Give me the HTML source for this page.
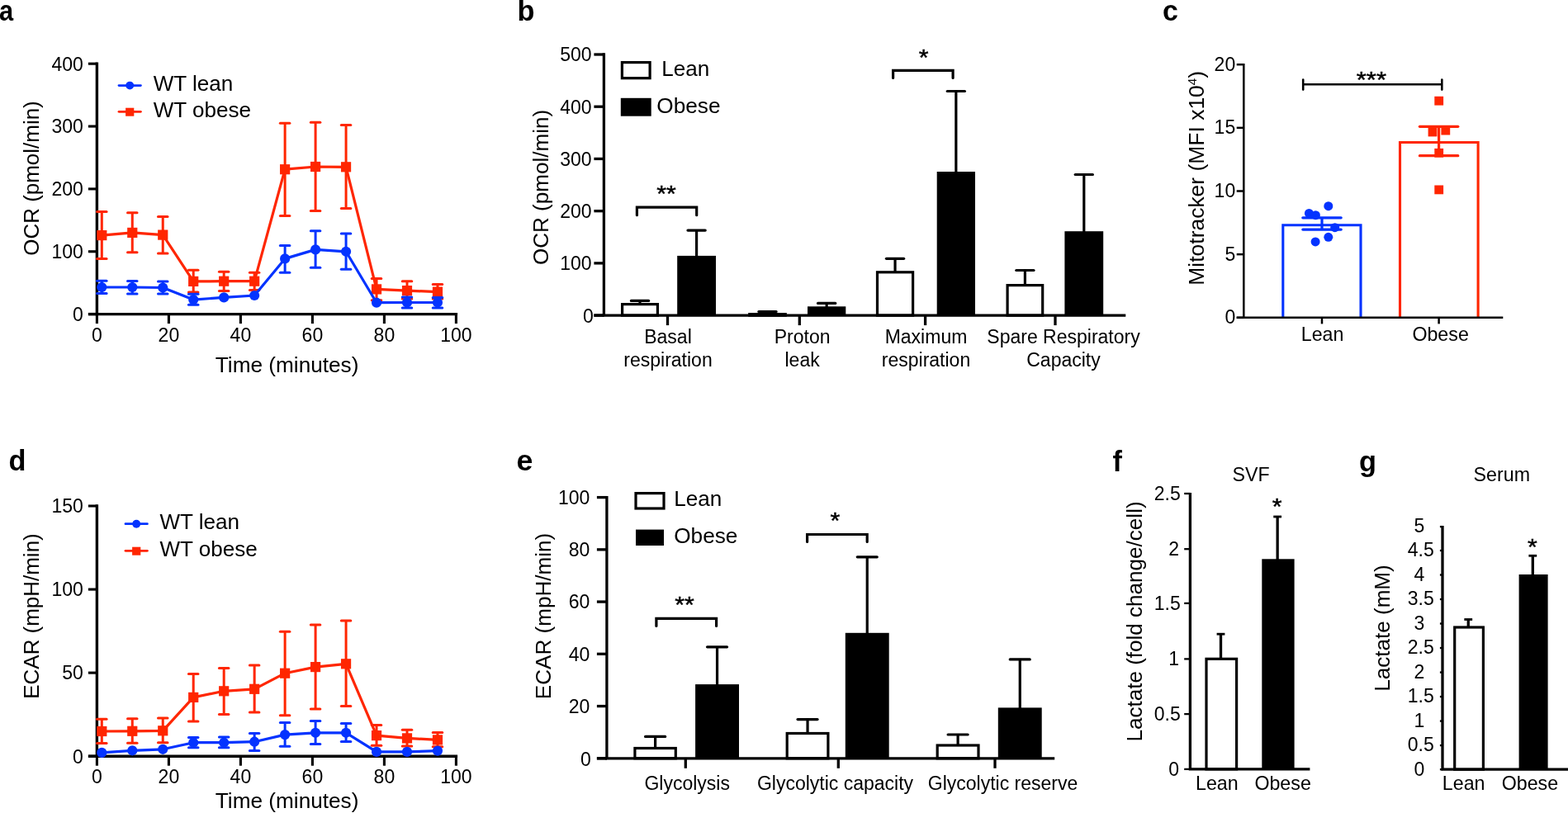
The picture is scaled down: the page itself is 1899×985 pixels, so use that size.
<!DOCTYPE html>
<html lang="en">
<head>
<meta charset="utf-8">
<title>Figure</title>
<style>
html,body{margin:0;padding:0;background:#fff;}
body{width:1899px;height:985px;overflow:hidden;}
svg{display:block;font-family:"Liberation Sans",sans-serif;fill:#000;}
</style>
</head>
<body>
<svg width="1899" height="985" viewBox="0 0 1899 985">
<rect x="0" y="0" width="1899" height="985" fill="#fff"/>
<g id="panel-a">
<text transform="translate(-1 25) scale(0.880 1)" font-size="35" font-weight="bold">a</text>
<path d="M117.4 75.5 V380.6 H554.1" fill="none" stroke="#000" stroke-width="3.4" stroke-linejoin="miter"/>
<path d="M117.4 380.6 H106.9" fill="none" stroke="#000" stroke-width="3.4"/>
<line x1="106.9" y1="380.6" x2="117.4" y2="380.6" stroke="#000" stroke-width="3.1"/>
<text x="100.9" y="388.9" font-size="23" text-anchor="end">0</text>
<line x1="106.9" y1="304.75" x2="117.4" y2="304.75" stroke="#000" stroke-width="3.1"/>
<text x="100.9" y="313.05" font-size="23" text-anchor="end">100</text>
<line x1="106.9" y1="228.9" x2="117.4" y2="228.9" stroke="#000" stroke-width="3.1"/>
<text x="100.9" y="237.2" font-size="23" text-anchor="end">200</text>
<line x1="106.9" y1="153.05" x2="117.4" y2="153.05" stroke="#000" stroke-width="3.1"/>
<text x="100.9" y="161.35" font-size="23" text-anchor="end">300</text>
<line x1="106.9" y1="77.2" x2="117.4" y2="77.2" stroke="#000" stroke-width="3.1"/>
<text x="100.9" y="85.5" font-size="23" text-anchor="end">400</text>
<line x1="117.4" y1="380.6" x2="117.4" y2="392.1" stroke="#000" stroke-width="3.1"/>
<text x="117.4" y="413.7" font-size="23" text-anchor="middle">0</text>
<line x1="204.4" y1="380.6" x2="204.4" y2="392.1" stroke="#000" stroke-width="3.1"/>
<text x="204.4" y="413.7" font-size="23" text-anchor="middle">20</text>
<line x1="291.4" y1="380.6" x2="291.4" y2="392.1" stroke="#000" stroke-width="3.1"/>
<text x="291.4" y="413.7" font-size="23" text-anchor="middle">40</text>
<line x1="378.4" y1="380.6" x2="378.4" y2="392.1" stroke="#000" stroke-width="3.1"/>
<text x="378.4" y="413.7" font-size="23" text-anchor="middle">60</text>
<line x1="465.4" y1="380.6" x2="465.4" y2="392.1" stroke="#000" stroke-width="3.1"/>
<text x="465.4" y="413.7" font-size="23" text-anchor="middle">80</text>
<line x1="552.4" y1="380.6" x2="552.4" y2="392.1" stroke="#000" stroke-width="3.1"/>
<text x="552.4" y="413.7" font-size="23" text-anchor="middle">100</text>
<text transform="translate(47 216) rotate(-90) scale(1.030 1)" font-size="25.2" text-anchor="middle">OCR (pmol/min)</text>
<text transform="translate(347.6 451) scale(1.040 1)" font-size="25.2" text-anchor="middle">Time (minutes)</text>
<line x1="123.3" y1="256.6" x2="123.3" y2="313.6" stroke="#ff2600" stroke-width="3"/>
<line x1="117.55" y1="256.6" x2="129.05" y2="256.6" stroke="#ff2600" stroke-width="3" stroke-linecap="round"/>
<line x1="117.55" y1="313.6" x2="129.05" y2="313.6" stroke="#ff2600" stroke-width="3" stroke-linecap="round"/>
<line x1="160.27" y1="257.8" x2="160.27" y2="305.8" stroke="#ff2600" stroke-width="3"/>
<line x1="154.52" y1="257.8" x2="166.02" y2="257.8" stroke="#ff2600" stroke-width="3" stroke-linecap="round"/>
<line x1="154.52" y1="305.8" x2="166.02" y2="305.8" stroke="#ff2600" stroke-width="3" stroke-linecap="round"/>
<line x1="197.24" y1="262.4" x2="197.24" y2="307" stroke="#ff2600" stroke-width="3"/>
<line x1="191.49" y1="262.4" x2="202.99" y2="262.4" stroke="#ff2600" stroke-width="3" stroke-linecap="round"/>
<line x1="191.49" y1="307" x2="202.99" y2="307" stroke="#ff2600" stroke-width="3" stroke-linecap="round"/>
<line x1="234.21" y1="327.3" x2="234.21" y2="354.1" stroke="#ff2600" stroke-width="3"/>
<line x1="228.46" y1="327.3" x2="239.96" y2="327.3" stroke="#ff2600" stroke-width="3" stroke-linecap="round"/>
<line x1="228.46" y1="354.1" x2="239.96" y2="354.1" stroke="#ff2600" stroke-width="3" stroke-linecap="round"/>
<line x1="271.18" y1="329.2" x2="271.18" y2="352.4" stroke="#ff2600" stroke-width="3"/>
<line x1="265.43" y1="329.2" x2="276.93" y2="329.2" stroke="#ff2600" stroke-width="3" stroke-linecap="round"/>
<line x1="265.43" y1="352.4" x2="276.93" y2="352.4" stroke="#ff2600" stroke-width="3" stroke-linecap="round"/>
<line x1="308.15" y1="330.2" x2="308.15" y2="351.5" stroke="#ff2600" stroke-width="3"/>
<line x1="302.4" y1="330.2" x2="313.9" y2="330.2" stroke="#ff2600" stroke-width="3" stroke-linecap="round"/>
<line x1="302.4" y1="351.5" x2="313.9" y2="351.5" stroke="#ff2600" stroke-width="3" stroke-linecap="round"/>
<line x1="345.12" y1="149.2" x2="345.12" y2="261.4" stroke="#ff2600" stroke-width="3"/>
<line x1="339.37" y1="149.2" x2="350.87" y2="149.2" stroke="#ff2600" stroke-width="3" stroke-linecap="round"/>
<line x1="339.37" y1="261.4" x2="350.87" y2="261.4" stroke="#ff2600" stroke-width="3" stroke-linecap="round"/>
<line x1="382.09" y1="148.2" x2="382.09" y2="255.4" stroke="#ff2600" stroke-width="3"/>
<line x1="376.34" y1="148.2" x2="387.84" y2="148.2" stroke="#ff2600" stroke-width="3" stroke-linecap="round"/>
<line x1="376.34" y1="255.4" x2="387.84" y2="255.4" stroke="#ff2600" stroke-width="3" stroke-linecap="round"/>
<line x1="419.06" y1="151.6" x2="419.06" y2="252.5" stroke="#ff2600" stroke-width="3"/>
<line x1="413.31" y1="151.6" x2="424.81" y2="151.6" stroke="#ff2600" stroke-width="3" stroke-linecap="round"/>
<line x1="413.31" y1="252.5" x2="424.81" y2="252.5" stroke="#ff2600" stroke-width="3" stroke-linecap="round"/>
<line x1="456.03" y1="337.5" x2="456.03" y2="363.8" stroke="#ff2600" stroke-width="3"/>
<line x1="450.28" y1="337.5" x2="461.78" y2="337.5" stroke="#ff2600" stroke-width="3" stroke-linecap="round"/>
<line x1="450.28" y1="363.8" x2="461.78" y2="363.8" stroke="#ff2600" stroke-width="3" stroke-linecap="round"/>
<line x1="493" y1="340.7" x2="493" y2="361.9" stroke="#ff2600" stroke-width="3"/>
<line x1="487.25" y1="340.7" x2="498.75" y2="340.7" stroke="#ff2600" stroke-width="3" stroke-linecap="round"/>
<line x1="487.25" y1="361.9" x2="498.75" y2="361.9" stroke="#ff2600" stroke-width="3" stroke-linecap="round"/>
<line x1="529.97" y1="344.6" x2="529.97" y2="362" stroke="#ff2600" stroke-width="3"/>
<line x1="524.22" y1="344.6" x2="535.72" y2="344.6" stroke="#ff2600" stroke-width="3" stroke-linecap="round"/>
<line x1="524.22" y1="362" x2="535.72" y2="362" stroke="#ff2600" stroke-width="3" stroke-linecap="round"/>
<path d="M123.3 285.1 L160.27 281.9 L197.24 284.6 L234.21 340.9 L271.18 340.7 L308.15 340.7 L345.12 205.2 L382.09 202 L419.06 202.3 L456.03 350.4 L493 352.1 L529.97 353.6" fill="none" stroke="#ff2600" stroke-width="3.2" stroke-linejoin="round"/>
<rect x="117.2" y="279" width="12.2" height="12.2" fill="#ff2600"/>
<rect x="154.17" y="275.8" width="12.2" height="12.2" fill="#ff2600"/>
<rect x="191.14" y="278.5" width="12.2" height="12.2" fill="#ff2600"/>
<rect x="228.11" y="334.8" width="12.2" height="12.2" fill="#ff2600"/>
<rect x="265.08" y="334.6" width="12.2" height="12.2" fill="#ff2600"/>
<rect x="302.05" y="334.6" width="12.2" height="12.2" fill="#ff2600"/>
<rect x="339.02" y="199.1" width="12.2" height="12.2" fill="#ff2600"/>
<rect x="375.99" y="195.9" width="12.2" height="12.2" fill="#ff2600"/>
<rect x="412.96" y="196.2" width="12.2" height="12.2" fill="#ff2600"/>
<rect x="449.93" y="344.3" width="12.2" height="12.2" fill="#ff2600"/>
<rect x="486.9" y="346" width="12.2" height="12.2" fill="#ff2600"/>
<rect x="523.87" y="347.5" width="12.2" height="12.2" fill="#ff2600"/>
<line x1="123.3" y1="340.2" x2="123.3" y2="355.5" stroke="#0433ff" stroke-width="3"/>
<line x1="117.55" y1="340.2" x2="129.05" y2="340.2" stroke="#0433ff" stroke-width="3" stroke-linecap="round"/>
<line x1="117.55" y1="355.5" x2="129.05" y2="355.5" stroke="#0433ff" stroke-width="3" stroke-linecap="round"/>
<line x1="160.27" y1="340.4" x2="160.27" y2="356" stroke="#0433ff" stroke-width="3"/>
<line x1="154.52" y1="340.4" x2="166.02" y2="340.4" stroke="#0433ff" stroke-width="3" stroke-linecap="round"/>
<line x1="154.52" y1="356" x2="166.02" y2="356" stroke="#0433ff" stroke-width="3" stroke-linecap="round"/>
<line x1="197.24" y1="341.1" x2="197.24" y2="356" stroke="#0433ff" stroke-width="3"/>
<line x1="191.49" y1="341.1" x2="202.99" y2="341.1" stroke="#0433ff" stroke-width="3" stroke-linecap="round"/>
<line x1="191.49" y1="356" x2="202.99" y2="356" stroke="#0433ff" stroke-width="3" stroke-linecap="round"/>
<line x1="234.21" y1="356.3" x2="234.21" y2="369.2" stroke="#0433ff" stroke-width="3"/>
<line x1="228.46" y1="356.3" x2="239.96" y2="356.3" stroke="#0433ff" stroke-width="3" stroke-linecap="round"/>
<line x1="228.46" y1="369.2" x2="239.96" y2="369.2" stroke="#0433ff" stroke-width="3" stroke-linecap="round"/>
<line x1="345.12" y1="297.5" x2="345.12" y2="330.2" stroke="#0433ff" stroke-width="3"/>
<line x1="339.37" y1="297.5" x2="350.87" y2="297.5" stroke="#0433ff" stroke-width="3" stroke-linecap="round"/>
<line x1="339.37" y1="330.2" x2="350.87" y2="330.2" stroke="#0433ff" stroke-width="3" stroke-linecap="round"/>
<line x1="382.09" y1="279.7" x2="382.09" y2="324.3" stroke="#0433ff" stroke-width="3"/>
<line x1="376.34" y1="279.7" x2="387.84" y2="279.7" stroke="#0433ff" stroke-width="3" stroke-linecap="round"/>
<line x1="376.34" y1="324.3" x2="387.84" y2="324.3" stroke="#0433ff" stroke-width="3" stroke-linecap="round"/>
<line x1="419.06" y1="282.9" x2="419.06" y2="326.3" stroke="#0433ff" stroke-width="3"/>
<line x1="413.31" y1="282.9" x2="424.81" y2="282.9" stroke="#0433ff" stroke-width="3" stroke-linecap="round"/>
<line x1="413.31" y1="326.3" x2="424.81" y2="326.3" stroke="#0433ff" stroke-width="3" stroke-linecap="round"/>
<line x1="493" y1="360" x2="493" y2="373" stroke="#0433ff" stroke-width="3"/>
<line x1="487.25" y1="360" x2="498.75" y2="360" stroke="#0433ff" stroke-width="3" stroke-linecap="round"/>
<line x1="487.25" y1="373" x2="498.75" y2="373" stroke="#0433ff" stroke-width="3" stroke-linecap="round"/>
<line x1="529.97" y1="360.4" x2="529.97" y2="373" stroke="#0433ff" stroke-width="3"/>
<line x1="524.22" y1="360.4" x2="535.72" y2="360.4" stroke="#0433ff" stroke-width="3" stroke-linecap="round"/>
<line x1="524.22" y1="373" x2="535.72" y2="373" stroke="#0433ff" stroke-width="3" stroke-linecap="round"/>
<path d="M123.3 348 L160.27 348 L197.24 348.5 L234.21 363.1 L271.18 360.4 L308.15 358 L345.12 313.4 L382.09 302.4 L419.06 304.8 L456.03 366.7 L493 366.5 L529.97 366.5" fill="none" stroke="#0433ff" stroke-width="3.2" stroke-linejoin="round"/>
<circle cx="123.3" cy="348" r="6.1" fill="#0433ff"/>
<circle cx="160.27" cy="348" r="6.1" fill="#0433ff"/>
<circle cx="197.24" cy="348.5" r="6.1" fill="#0433ff"/>
<circle cx="234.21" cy="363.1" r="6.1" fill="#0433ff"/>
<circle cx="271.18" cy="360.4" r="6.1" fill="#0433ff"/>
<circle cx="308.15" cy="358" r="6.1" fill="#0433ff"/>
<circle cx="345.12" cy="313.4" r="6.1" fill="#0433ff"/>
<circle cx="382.09" cy="302.4" r="6.1" fill="#0433ff"/>
<circle cx="419.06" cy="304.8" r="6.1" fill="#0433ff"/>
<circle cx="456.03" cy="366.7" r="6.1" fill="#0433ff"/>
<circle cx="493" cy="366.5" r="6.1" fill="#0433ff"/>
<circle cx="529.97" cy="366.5" r="6.1" fill="#0433ff"/>
<line x1="144" y1="103.6" x2="170.4" y2="103.6" stroke="#0433ff" stroke-width="2.8" stroke-linecap="round"/>
<circle cx="157.2" cy="103.6" r="4.95" fill="#0433ff"/>
<line x1="144" y1="135.3" x2="170.4" y2="135.3" stroke="#ff2600" stroke-width="2.8" stroke-linecap="round"/>
<rect x="152.1" y="130.7" width="10.2" height="10" fill="#ff2600"/>
<text transform="translate(185.7 110.2) scale(1.035 1)" font-size="25.2">WT lean</text>
<text transform="translate(185.7 141.5) scale(1.035 1)" font-size="25.2">WT obese</text>
</g>
<g id="panel-d">
<text transform="translate(10.5 570) scale(0.980 1)" font-size="35" font-weight="bold">d</text>
<path d="M117.4 611.3 V916.2 H554.1" fill="none" stroke="#000" stroke-width="3.4" stroke-linejoin="miter"/>
<path d="M117.4 916.2 H106.9" fill="none" stroke="#000" stroke-width="3.4"/>
<line x1="106.9" y1="916.2" x2="117.4" y2="916.2" stroke="#000" stroke-width="3.1"/>
<text x="100.9" y="924.5" font-size="23" text-anchor="end">0</text>
<line x1="106.9" y1="815.13" x2="117.4" y2="815.13" stroke="#000" stroke-width="3.1"/>
<text x="100.9" y="823.43" font-size="23" text-anchor="end">50</text>
<line x1="106.9" y1="714.07" x2="117.4" y2="714.07" stroke="#000" stroke-width="3.1"/>
<text x="100.9" y="722.37" font-size="23" text-anchor="end">100</text>
<line x1="106.9" y1="613" x2="117.4" y2="613" stroke="#000" stroke-width="3.1"/>
<text x="100.9" y="621.3" font-size="23" text-anchor="end">150</text>
<line x1="117.4" y1="916.2" x2="117.4" y2="927.7" stroke="#000" stroke-width="3.1"/>
<text x="117.4" y="949.2" font-size="23" text-anchor="middle">0</text>
<line x1="204.4" y1="916.2" x2="204.4" y2="927.7" stroke="#000" stroke-width="3.1"/>
<text x="204.4" y="949.2" font-size="23" text-anchor="middle">20</text>
<line x1="291.4" y1="916.2" x2="291.4" y2="927.7" stroke="#000" stroke-width="3.1"/>
<text x="291.4" y="949.2" font-size="23" text-anchor="middle">40</text>
<line x1="378.4" y1="916.2" x2="378.4" y2="927.7" stroke="#000" stroke-width="3.1"/>
<text x="378.4" y="949.2" font-size="23" text-anchor="middle">60</text>
<line x1="465.4" y1="916.2" x2="465.4" y2="927.7" stroke="#000" stroke-width="3.1"/>
<text x="465.4" y="949.2" font-size="23" text-anchor="middle">80</text>
<line x1="552.4" y1="916.2" x2="552.4" y2="927.7" stroke="#000" stroke-width="3.1"/>
<text x="552.4" y="949.2" font-size="23" text-anchor="middle">100</text>
<text transform="translate(47 746.5) rotate(-90) scale(1.030 1)" font-size="25.2" text-anchor="middle">ECAR (mpH/min)</text>
<text transform="translate(347.6 979) scale(1.040 1)" font-size="25.2" text-anchor="middle">Time (minutes)</text>
<line x1="123.3" y1="871.3" x2="123.3" y2="900.6" stroke="#ff2600" stroke-width="3"/>
<line x1="117.55" y1="871.3" x2="129.05" y2="871.3" stroke="#ff2600" stroke-width="3" stroke-linecap="round"/>
<line x1="117.55" y1="900.6" x2="129.05" y2="900.6" stroke="#ff2600" stroke-width="3" stroke-linecap="round"/>
<line x1="160.27" y1="870.8" x2="160.27" y2="900.3" stroke="#ff2600" stroke-width="3"/>
<line x1="154.52" y1="870.8" x2="166.02" y2="870.8" stroke="#ff2600" stroke-width="3" stroke-linecap="round"/>
<line x1="154.52" y1="900.3" x2="166.02" y2="900.3" stroke="#ff2600" stroke-width="3" stroke-linecap="round"/>
<line x1="197.24" y1="870.1" x2="197.24" y2="899.8" stroke="#ff2600" stroke-width="3"/>
<line x1="191.49" y1="870.1" x2="202.99" y2="870.1" stroke="#ff2600" stroke-width="3" stroke-linecap="round"/>
<line x1="191.49" y1="899.8" x2="202.99" y2="899.8" stroke="#ff2600" stroke-width="3" stroke-linecap="round"/>
<line x1="234.21" y1="816.5" x2="234.21" y2="874.1" stroke="#ff2600" stroke-width="3"/>
<line x1="228.46" y1="816.5" x2="239.96" y2="816.5" stroke="#ff2600" stroke-width="3" stroke-linecap="round"/>
<line x1="228.46" y1="874.1" x2="239.96" y2="874.1" stroke="#ff2600" stroke-width="3" stroke-linecap="round"/>
<line x1="271.18" y1="809.6" x2="271.18" y2="865.5" stroke="#ff2600" stroke-width="3"/>
<line x1="265.43" y1="809.6" x2="276.93" y2="809.6" stroke="#ff2600" stroke-width="3" stroke-linecap="round"/>
<line x1="265.43" y1="865.5" x2="276.93" y2="865.5" stroke="#ff2600" stroke-width="3" stroke-linecap="round"/>
<line x1="308.15" y1="806.1" x2="308.15" y2="862.9" stroke="#ff2600" stroke-width="3"/>
<line x1="302.4" y1="806.1" x2="313.9" y2="806.1" stroke="#ff2600" stroke-width="3" stroke-linecap="round"/>
<line x1="302.4" y1="862.9" x2="313.9" y2="862.9" stroke="#ff2600" stroke-width="3" stroke-linecap="round"/>
<line x1="345.12" y1="765.2" x2="345.12" y2="866.7" stroke="#ff2600" stroke-width="3"/>
<line x1="339.37" y1="765.2" x2="350.87" y2="765.2" stroke="#ff2600" stroke-width="3" stroke-linecap="round"/>
<line x1="339.37" y1="866.7" x2="350.87" y2="866.7" stroke="#ff2600" stroke-width="3" stroke-linecap="round"/>
<line x1="382.09" y1="756.9" x2="382.09" y2="859.1" stroke="#ff2600" stroke-width="3"/>
<line x1="376.34" y1="756.9" x2="387.84" y2="756.9" stroke="#ff2600" stroke-width="3" stroke-linecap="round"/>
<line x1="376.34" y1="859.1" x2="387.84" y2="859.1" stroke="#ff2600" stroke-width="3" stroke-linecap="round"/>
<line x1="419.06" y1="752.1" x2="419.06" y2="855.6" stroke="#ff2600" stroke-width="3"/>
<line x1="413.31" y1="752.1" x2="424.81" y2="752.1" stroke="#ff2600" stroke-width="3" stroke-linecap="round"/>
<line x1="413.31" y1="855.6" x2="424.81" y2="855.6" stroke="#ff2600" stroke-width="3" stroke-linecap="round"/>
<line x1="456.03" y1="878.6" x2="456.03" y2="903.3" stroke="#ff2600" stroke-width="3"/>
<line x1="450.28" y1="878.6" x2="461.78" y2="878.6" stroke="#ff2600" stroke-width="3" stroke-linecap="round"/>
<line x1="450.28" y1="903.3" x2="461.78" y2="903.3" stroke="#ff2600" stroke-width="3" stroke-linecap="round"/>
<line x1="493" y1="884.2" x2="493" y2="904" stroke="#ff2600" stroke-width="3"/>
<line x1="487.25" y1="884.2" x2="498.75" y2="884.2" stroke="#ff2600" stroke-width="3" stroke-linecap="round"/>
<line x1="487.25" y1="904" x2="498.75" y2="904" stroke="#ff2600" stroke-width="3" stroke-linecap="round"/>
<line x1="529.97" y1="887.5" x2="529.97" y2="904.8" stroke="#ff2600" stroke-width="3"/>
<line x1="524.22" y1="887.5" x2="535.72" y2="887.5" stroke="#ff2600" stroke-width="3" stroke-linecap="round"/>
<line x1="524.22" y1="904.8" x2="535.72" y2="904.8" stroke="#ff2600" stroke-width="3" stroke-linecap="round"/>
<path d="M123.3 886 L160.27 885.8 L197.24 885.3 L234.21 844.9 L271.18 837.3 L308.15 834.8 L345.12 815.7 L382.09 808.1 L419.06 804.3 L456.03 891.1 L493 894.4 L529.97 896.4" fill="none" stroke="#ff2600" stroke-width="3.2" stroke-linejoin="round"/>
<rect x="117.2" y="879.9" width="12.2" height="12.2" fill="#ff2600"/>
<rect x="154.17" y="879.7" width="12.2" height="12.2" fill="#ff2600"/>
<rect x="191.14" y="879.2" width="12.2" height="12.2" fill="#ff2600"/>
<rect x="228.11" y="838.8" width="12.2" height="12.2" fill="#ff2600"/>
<rect x="265.08" y="831.2" width="12.2" height="12.2" fill="#ff2600"/>
<rect x="302.05" y="828.7" width="12.2" height="12.2" fill="#ff2600"/>
<rect x="339.02" y="809.6" width="12.2" height="12.2" fill="#ff2600"/>
<rect x="375.99" y="802" width="12.2" height="12.2" fill="#ff2600"/>
<rect x="412.96" y="798.2" width="12.2" height="12.2" fill="#ff2600"/>
<rect x="449.93" y="885" width="12.2" height="12.2" fill="#ff2600"/>
<rect x="486.9" y="888.3" width="12.2" height="12.2" fill="#ff2600"/>
<rect x="523.87" y="890.3" width="12.2" height="12.2" fill="#ff2600"/>
<line x1="234.21" y1="893.6" x2="234.21" y2="905.8" stroke="#0433ff" stroke-width="3"/>
<line x1="228.46" y1="893.6" x2="239.96" y2="893.6" stroke="#0433ff" stroke-width="3" stroke-linecap="round"/>
<line x1="228.46" y1="905.8" x2="239.96" y2="905.8" stroke="#0433ff" stroke-width="3" stroke-linecap="round"/>
<line x1="271.18" y1="893.1" x2="271.18" y2="905.8" stroke="#0433ff" stroke-width="3"/>
<line x1="265.43" y1="893.1" x2="276.93" y2="893.1" stroke="#0433ff" stroke-width="3" stroke-linecap="round"/>
<line x1="265.43" y1="905.8" x2="276.93" y2="905.8" stroke="#0433ff" stroke-width="3" stroke-linecap="round"/>
<line x1="308.15" y1="888.5" x2="308.15" y2="909.6" stroke="#0433ff" stroke-width="3"/>
<line x1="302.4" y1="888.5" x2="313.9" y2="888.5" stroke="#0433ff" stroke-width="3" stroke-linecap="round"/>
<line x1="302.4" y1="909.6" x2="313.9" y2="909.6" stroke="#0433ff" stroke-width="3" stroke-linecap="round"/>
<line x1="345.12" y1="875.6" x2="345.12" y2="904.3" stroke="#0433ff" stroke-width="3"/>
<line x1="339.37" y1="875.6" x2="350.87" y2="875.6" stroke="#0433ff" stroke-width="3" stroke-linecap="round"/>
<line x1="339.37" y1="904.3" x2="350.87" y2="904.3" stroke="#0433ff" stroke-width="3" stroke-linecap="round"/>
<line x1="382.09" y1="873.6" x2="382.09" y2="901.5" stroke="#0433ff" stroke-width="3"/>
<line x1="376.34" y1="873.6" x2="387.84" y2="873.6" stroke="#0433ff" stroke-width="3" stroke-linecap="round"/>
<line x1="376.34" y1="901.5" x2="387.84" y2="901.5" stroke="#0433ff" stroke-width="3" stroke-linecap="round"/>
<line x1="419.06" y1="876.4" x2="419.06" y2="898.4" stroke="#0433ff" stroke-width="3"/>
<line x1="413.31" y1="876.4" x2="424.81" y2="876.4" stroke="#0433ff" stroke-width="3" stroke-linecap="round"/>
<line x1="413.31" y1="898.4" x2="424.81" y2="898.4" stroke="#0433ff" stroke-width="3" stroke-linecap="round"/>
<path d="M123.3 911.9 L160.27 909.3 L197.24 907.8 L234.21 899.7 L271.18 899.7 L308.15 898.7 L345.12 890.1 L382.09 887.8 L419.06 887.8 L456.03 910.9 L493 910.9 L529.97 909.6" fill="none" stroke="#0433ff" stroke-width="3.2" stroke-linejoin="round"/>
<circle cx="123.3" cy="911.9" r="6.1" fill="#0433ff"/>
<circle cx="160.27" cy="909.3" r="6.1" fill="#0433ff"/>
<circle cx="197.24" cy="907.8" r="6.1" fill="#0433ff"/>
<circle cx="234.21" cy="899.7" r="6.1" fill="#0433ff"/>
<circle cx="271.18" cy="899.7" r="6.1" fill="#0433ff"/>
<circle cx="308.15" cy="898.7" r="6.1" fill="#0433ff"/>
<circle cx="345.12" cy="890.1" r="6.1" fill="#0433ff"/>
<circle cx="382.09" cy="887.8" r="6.1" fill="#0433ff"/>
<circle cx="419.06" cy="887.8" r="6.1" fill="#0433ff"/>
<circle cx="456.03" cy="910.9" r="6.1" fill="#0433ff"/>
<circle cx="493" cy="910.9" r="6.1" fill="#0433ff"/>
<circle cx="529.97" cy="909.6" r="6.1" fill="#0433ff"/>
<line x1="152" y1="634.7" x2="178.4" y2="634.7" stroke="#0433ff" stroke-width="2.8" stroke-linecap="round"/>
<circle cx="165.2" cy="634.7" r="4.95" fill="#0433ff"/>
<line x1="152" y1="667.3" x2="178.4" y2="667.3" stroke="#ff2600" stroke-width="2.8" stroke-linecap="round"/>
<rect x="160.1" y="662.7" width="10.2" height="10" fill="#ff2600"/>
<text transform="translate(193.5 641.3) scale(1.035 1)" font-size="25.2">WT lean</text>
<text transform="translate(193.5 673.5) scale(1.035 1)" font-size="25.2">WT obese</text>
</g>
<g id="panel-b">
<text transform="translate(626.5 24.6) scale(0.980 1)" font-size="35" font-weight="bold">b</text>
<line x1="775" y1="364.4" x2="775" y2="368" stroke="#000" stroke-width="3.2"/>
<line x1="764.4" y1="364.4" x2="785.6" y2="364.4" stroke="#000" stroke-width="3.2" stroke-linecap="round"/>
<rect x="753.6" y="368.6" width="42.8" height="13.5" fill="#fff" stroke="#000" stroke-width="3.2"/>
<line x1="843.6" y1="279.1" x2="843.6" y2="310.9" stroke="#000" stroke-width="3.2"/>
<line x1="833" y1="279.1" x2="854.2" y2="279.1" stroke="#000" stroke-width="3.2" stroke-linecap="round"/>
<rect x="820.2" y="309.9" width="46.8" height="72.2" fill="#000"/>
<line x1="929.5" y1="377.5" x2="929.5" y2="380" stroke="#000" stroke-width="3.2"/>
<line x1="918.9" y1="377.5" x2="940.1" y2="377.5" stroke="#000" stroke-width="3.2" stroke-linecap="round"/>
<rect x="907.8" y="380.6" width="43.4" height="1.5" fill="#fff" stroke="#000" stroke-width="3.2"/>
<line x1="1001.15" y1="367.4" x2="1001.15" y2="372.3" stroke="#000" stroke-width="3.2"/>
<line x1="990.55" y1="367.4" x2="1011.75" y2="367.4" stroke="#000" stroke-width="3.2" stroke-linecap="round"/>
<rect x="978" y="371.3" width="46.3" height="10.8" fill="#000"/>
<line x1="1084.05" y1="313.3" x2="1084.05" y2="329.2" stroke="#000" stroke-width="3.2"/>
<line x1="1073.45" y1="313.3" x2="1094.65" y2="313.3" stroke="#000" stroke-width="3.2" stroke-linecap="round"/>
<rect x="1062.5" y="329.8" width="43.1" height="52.3" fill="#fff" stroke="#000" stroke-width="3.2"/>
<line x1="1157.85" y1="110.5" x2="1157.85" y2="209" stroke="#000" stroke-width="3.2"/>
<line x1="1147.25" y1="110.5" x2="1168.45" y2="110.5" stroke="#000" stroke-width="3.2" stroke-linecap="round"/>
<rect x="1134.7" y="208" width="46.3" height="174.1" fill="#000"/>
<line x1="1241.4" y1="327.5" x2="1241.4" y2="345" stroke="#000" stroke-width="3.2"/>
<line x1="1230.8" y1="327.5" x2="1252" y2="327.5" stroke="#000" stroke-width="3.2" stroke-linecap="round"/>
<rect x="1220.1" y="345.6" width="42.6" height="36.5" fill="#fff" stroke="#000" stroke-width="3.2"/>
<line x1="1312.8" y1="211.5" x2="1312.8" y2="281.2" stroke="#000" stroke-width="3.2"/>
<line x1="1302.2" y1="211.5" x2="1323.4" y2="211.5" stroke="#000" stroke-width="3.2" stroke-linecap="round"/>
<rect x="1289.4" y="280.2" width="46.8" height="101.9" fill="#000"/>
<path d="M731.4 64.35 V382.1 H1363.3" fill="none" stroke="#000" stroke-width="3.3" stroke-linejoin="miter"/>
<path d="M731.4 382.1 H719.4" fill="none" stroke="#000" stroke-width="3.3"/>
<line x1="719.4" y1="382.1" x2="731.4" y2="382.1" stroke="#000" stroke-width="3.3"/>
<text x="718.9" y="391.4" font-size="23" text-anchor="end">0</text>
<line x1="719.4" y1="318.88" x2="731.4" y2="318.88" stroke="#000" stroke-width="3.3"/>
<text x="716.6" y="327.18" font-size="23" text-anchor="end">100</text>
<line x1="719.4" y1="255.66" x2="731.4" y2="255.66" stroke="#000" stroke-width="3.3"/>
<text x="716.6" y="263.96" font-size="23" text-anchor="end">200</text>
<line x1="719.4" y1="192.44" x2="731.4" y2="192.44" stroke="#000" stroke-width="3.3"/>
<text x="716.6" y="200.74" font-size="23" text-anchor="end">300</text>
<line x1="719.4" y1="129.22" x2="731.4" y2="129.22" stroke="#000" stroke-width="3.3"/>
<text x="716.6" y="137.52" font-size="23" text-anchor="end">400</text>
<line x1="719.4" y1="66" x2="731.4" y2="66" stroke="#000" stroke-width="3.3"/>
<text x="716.6" y="74.3" font-size="23" text-anchor="end">500</text>
<line x1="808.5" y1="382.1" x2="808.5" y2="394.1" stroke="#000" stroke-width="3.3"/>
<line x1="968.3" y1="382.1" x2="968.3" y2="394.1" stroke="#000" stroke-width="3.3"/>
<line x1="1120.6" y1="382.1" x2="1120.6" y2="394.1" stroke="#000" stroke-width="3.3"/>
<line x1="1278" y1="382.1" x2="1278" y2="394.1" stroke="#000" stroke-width="3.3"/>
<text x="809" y="416.2" font-size="23" text-anchor="middle">Basal</text>
<text x="809" y="443.8" font-size="23" text-anchor="middle">respiration</text>
<text x="971.6" y="416.2" font-size="23" text-anchor="middle">Proton</text>
<text x="971.6" y="443.8" font-size="23" text-anchor="middle">leak</text>
<text x="1121.5" y="416.2" font-size="23" text-anchor="middle">Maximum</text>
<text x="1121.5" y="443.8" font-size="23" text-anchor="middle">respiration</text>
<text x="1288" y="416.2" font-size="23" text-anchor="middle">Spare Respiratory</text>
<text x="1288" y="443.8" font-size="23" text-anchor="middle">Capacity</text>
<text transform="translate(663.5 227) rotate(-90) scale(1.035 1)" font-size="25.2" text-anchor="middle">OCR (pmol/min)</text>
<path d="M771.4 260.7 V251.2 H843.7 V260.7" fill="none" stroke="#000" stroke-width="3.2" stroke-linejoin="miter" stroke-linecap="round"/>
<text transform="translate(807.1 243.9) scale(1.100 1)" font-size="27.5" text-anchor="middle" stroke="#000" stroke-width="0.45">**</text>
<path d="M1081.6 94.5 V85.3 H1154.1 V94.5" fill="none" stroke="#000" stroke-width="3.2" stroke-linejoin="miter" stroke-linecap="round"/>
<text transform="translate(1118.6 78.6) scale(1.100 1)" font-size="27.5" text-anchor="middle" stroke="#000" stroke-width="0.45">*</text>
<rect x="753.4" y="75.6" width="33.7" height="19.1" fill="#fff" stroke="#000" stroke-width="3.2"/>
<rect x="751.8" y="118.8" width="36.9" height="21.9" fill="#000"/>
<text transform="translate(801.2 91.8) scale(1.035 1)" font-size="25.2">Lean</text>
<text transform="translate(795.3 137.1) scale(1.040 1)" font-size="25.2">Obese</text>
</g>
<g id="panel-e">
<text transform="translate(625.6 570) scale(1.020 1)" font-size="35" font-weight="bold">e</text>
<line x1="793.6" y1="892.4" x2="793.6" y2="905.9" stroke="#000" stroke-width="3.2"/>
<line x1="781.6" y1="892.4" x2="805.6" y2="892.4" stroke="#000" stroke-width="3.2" stroke-linecap="round"/>
<rect x="768.9" y="906.5" width="49.4" height="12.3" fill="#fff" stroke="#000" stroke-width="3.2"/>
<line x1="868.55" y1="783.8" x2="868.55" y2="830.1" stroke="#000" stroke-width="3.2"/>
<line x1="856.55" y1="783.8" x2="880.55" y2="783.8" stroke="#000" stroke-width="3.2" stroke-linecap="round"/>
<rect x="842.1" y="829.1" width="52.9" height="89.7" fill="#000"/>
<line x1="978.05" y1="871.6" x2="978.05" y2="887.9" stroke="#000" stroke-width="3.2"/>
<line x1="966.05" y1="871.6" x2="990.05" y2="871.6" stroke="#000" stroke-width="3.2" stroke-linecap="round"/>
<rect x="953.2" y="888.5" width="49.7" height="30.3" fill="#fff" stroke="#000" stroke-width="3.2"/>
<line x1="1050.25" y1="674.8" x2="1050.25" y2="767.8" stroke="#000" stroke-width="3.2"/>
<line x1="1038.25" y1="674.8" x2="1062.25" y2="674.8" stroke="#000" stroke-width="3.2" stroke-linecap="round"/>
<rect x="1023.8" y="766.8" width="52.9" height="152" fill="#000"/>
<line x1="1160.1" y1="890" x2="1160.1" y2="902.4" stroke="#000" stroke-width="3.2"/>
<line x1="1148.1" y1="890" x2="1172.1" y2="890" stroke="#000" stroke-width="3.2" stroke-linecap="round"/>
<rect x="1135.2" y="903" width="49.8" height="15.8" fill="#fff" stroke="#000" stroke-width="3.2"/>
<line x1="1235.25" y1="798.9" x2="1235.25" y2="858.4" stroke="#000" stroke-width="3.2"/>
<line x1="1223.25" y1="798.9" x2="1247.25" y2="798.9" stroke="#000" stroke-width="3.2" stroke-linecap="round"/>
<rect x="1208.8" y="857.4" width="52.9" height="61.4" fill="#000"/>
<path d="M734.9 600.95 V918.8 H1277.2" fill="none" stroke="#000" stroke-width="3.3" stroke-linejoin="miter"/>
<path d="M734.9 918.8 H722.9" fill="none" stroke="#000" stroke-width="3.3"/>
<line x1="722.9" y1="918.8" x2="734.9" y2="918.8" stroke="#000" stroke-width="3.3"/>
<text x="715.9" y="928.1" font-size="23" text-anchor="end">0</text>
<line x1="722.9" y1="855.56" x2="734.9" y2="855.56" stroke="#000" stroke-width="3.3"/>
<text x="714.4" y="863.86" font-size="23" text-anchor="end">20</text>
<line x1="722.9" y1="792.32" x2="734.9" y2="792.32" stroke="#000" stroke-width="3.3"/>
<text x="714.4" y="800.62" font-size="23" text-anchor="end">40</text>
<line x1="722.9" y1="729.08" x2="734.9" y2="729.08" stroke="#000" stroke-width="3.3"/>
<text x="714.4" y="737.38" font-size="23" text-anchor="end">60</text>
<line x1="722.9" y1="665.84" x2="734.9" y2="665.84" stroke="#000" stroke-width="3.3"/>
<text x="714.4" y="674.14" font-size="23" text-anchor="end">80</text>
<line x1="722.9" y1="602.6" x2="734.9" y2="602.6" stroke="#000" stroke-width="3.3"/>
<text x="714.4" y="610.9" font-size="23" text-anchor="end">100</text>
<line x1="830.3" y1="918.8" x2="830.3" y2="930.8" stroke="#000" stroke-width="3.3"/>
<line x1="1015.3" y1="918.8" x2="1015.3" y2="930.8" stroke="#000" stroke-width="3.3"/>
<line x1="1205" y1="918.8" x2="1205" y2="930.8" stroke="#000" stroke-width="3.3"/>
<text x="832.2" y="957" font-size="23" text-anchor="middle">Glycolysis</text>
<text x="1011.5" y="957" font-size="23" text-anchor="middle">Glycolytic capacity</text>
<text x="1214.5" y="957" font-size="23" text-anchor="middle">Glycolytic reserve</text>
<text transform="translate(666.5 746.5) rotate(-90) scale(1.035 1)" font-size="25.2" text-anchor="middle">ECAR (mpH/min)</text>
<path d="M794.9 758.4 V749.4 H867.6 V758.4" fill="none" stroke="#000" stroke-width="3.2" stroke-linejoin="miter" stroke-linecap="round"/>
<text transform="translate(828.9 742.1) scale(1.100 1)" font-size="27.5" text-anchor="middle" stroke="#000" stroke-width="0.45">**</text>
<path d="M977.6 656.5 V647.5 H1050.2 V656.5" fill="none" stroke="#000" stroke-width="3.2" stroke-linejoin="miter" stroke-linecap="round"/>
<text transform="translate(1011.5 640.1) scale(1.100 1)" font-size="27.5" text-anchor="middle" stroke="#000" stroke-width="0.45">*</text>
<rect x="770" y="597.6" width="34" height="18.4" fill="#fff" stroke="#000" stroke-width="3.2"/>
<rect x="770" y="641.6" width="34" height="19.4" fill="#000"/>
<text transform="translate(816.2 613.4) scale(1.035 1)" font-size="25.2">Lean</text>
<text transform="translate(816.2 657.8) scale(1.040 1)" font-size="25.2">Obese</text>
</g>
<g id="panel-c">
<text transform="translate(1408 25) scale(0.970 1)" font-size="35" font-weight="bold">c</text>
<path d="M1553.8 384.8 V272.8 H1648 V384.8" fill="none" stroke="#0433ff" stroke-width="3.1" stroke-linejoin="miter"/>
<path d="M1695.5 384.8 V172.5 H1790.1 V384.8" fill="none" stroke="#ff2600" stroke-width="3.1" stroke-linejoin="miter"/>
<line x1="1601" y1="263.8" x2="1601" y2="278.1" stroke="#0433ff" stroke-width="3.2"/>
<line x1="1577.8" y1="263.8" x2="1624.2" y2="263.8" stroke="#0433ff" stroke-width="3.2" stroke-linecap="round"/>
<line x1="1577.8" y1="278.1" x2="1624.2" y2="278.1" stroke="#0433ff" stroke-width="3.2" stroke-linecap="round"/>
<line x1="1742.6" y1="153.3" x2="1742.6" y2="188.7" stroke="#ff2600" stroke-width="3.2"/>
<line x1="1719.4" y1="153.3" x2="1765.8" y2="153.3" stroke="#ff2600" stroke-width="3.2" stroke-linecap="round"/>
<line x1="1719.4" y1="188.7" x2="1765.8" y2="188.7" stroke="#ff2600" stroke-width="3.2" stroke-linecap="round"/>
<circle cx="1585.4" cy="258.4" r="5.5" fill="#0433ff"/>
<circle cx="1593.4" cy="260.7" r="5.5" fill="#0433ff"/>
<circle cx="1608.8" cy="249.7" r="5.5" fill="#0433ff"/>
<circle cx="1616.7" cy="275.7" r="5.5" fill="#0433ff"/>
<circle cx="1608.8" cy="287.3" r="5.5" fill="#0433ff"/>
<circle cx="1593.1" cy="292.9" r="5.5" fill="#0433ff"/>
<rect x="1737.3" y="116.8" width="10.8" height="10.8" fill="#ff2600"/>
<rect x="1729.6" y="154.6" width="10.8" height="10.8" fill="#ff2600"/>
<rect x="1745.4" y="152.7" width="10.8" height="10.8" fill="#ff2600"/>
<rect x="1737.3" y="179.9" width="10.8" height="10.8" fill="#ff2600"/>
<rect x="1737.3" y="224.5" width="10.8" height="10.8" fill="#ff2600"/>
<path d="M1506.3 76.95 V384.8 H1820.3" fill="none" stroke="#000" stroke-width="2.5" stroke-linejoin="miter"/>
<path d="M1506.3 384.8 H1497.7" fill="none" stroke="#000" stroke-width="2.5"/>
<line x1="1497.7" y1="384.8" x2="1506.3" y2="384.8" stroke="#000" stroke-width="2.5"/>
<text x="1496.2" y="392.4" font-size="23" text-anchor="end">0</text>
<line x1="1497.7" y1="308.15" x2="1506.3" y2="308.15" stroke="#000" stroke-width="2.5"/>
<text x="1496.2" y="315.75" font-size="23" text-anchor="end">5</text>
<line x1="1497.7" y1="231.5" x2="1506.3" y2="231.5" stroke="#000" stroke-width="2.5"/>
<text x="1496.2" y="239.1" font-size="23" text-anchor="end">10</text>
<line x1="1497.7" y1="154.85" x2="1506.3" y2="154.85" stroke="#000" stroke-width="2.5"/>
<text x="1496.2" y="162.45" font-size="23" text-anchor="end">15</text>
<line x1="1497.7" y1="78.2" x2="1506.3" y2="78.2" stroke="#000" stroke-width="2.5"/>
<text x="1496.2" y="85.8" font-size="23" text-anchor="end">20</text>
<line x1="1601" y1="384.8" x2="1601" y2="392.4" stroke="#000" stroke-width="2.5"/>
<line x1="1742.6" y1="384.8" x2="1742.6" y2="392.4" stroke="#000" stroke-width="2.5"/>
<text transform="translate(1601.6 413.4) scale(1.010 1)" font-size="23" text-anchor="middle">Lean</text>
<text transform="translate(1744.6 413.4) scale(1.010 1)" font-size="23" text-anchor="middle">Obese</text>
<text transform="translate(1458 215.8) rotate(-90) scale(1.05 1)" font-size="25.2" text-anchor="middle">Mitotracker (MFI x10<tspan font-size="14.5" dy="-9">4</tspan><tspan dy="9">)</tspan></text>
<line x1="1578.2" y1="102.2" x2="1746.3" y2="102.2" stroke="#000" stroke-width="2.6"/>
<line x1="1578.2" y1="96.6" x2="1578.2" y2="108.6" stroke="#000" stroke-width="2.6" stroke-linecap="round"/>
<line x1="1746.3" y1="96.6" x2="1746.3" y2="108.6" stroke="#000" stroke-width="2.6" stroke-linecap="round"/>
<text transform="translate(1660.9 105.7) scale(1.130 1)" font-size="27.5" text-anchor="middle" stroke="#000" stroke-width="0.45">***</text>
</g>
<g id="panel-f">
<text transform="translate(1347.5 570.5) scale(0.980 1)" font-size="35" font-weight="bold">f</text>
<line x1="1478.5" y1="768" x2="1478.5" y2="797.7" stroke="#000" stroke-width="3.3"/>
<line x1="1473.6" y1="768.2" x2="1483.4" y2="768.2" stroke="#000" stroke-width="2.8"/>
<rect x="1461" y="798.3" width="36.6" height="133.6" fill="#fff" stroke="#000" stroke-width="3.2"/>
<line x1="1547.15" y1="625.8" x2="1547.15" y2="678.3" stroke="#000" stroke-width="3.3"/>
<line x1="1542.25" y1="626" x2="1552.05" y2="626" stroke="#000" stroke-width="2.8"/>
<rect x="1528.3" y="677.3" width="39.3" height="254.6" fill="#000"/>
<path d="M1441.4 597 V931.9 H1586.4" fill="none" stroke="#000" stroke-width="3.3" stroke-linejoin="miter"/>
<line x1="1434.2" y1="931.9" x2="1441.4" y2="931.9" stroke="#000" stroke-width="2.3"/>
<text x="1428" y="939.9" font-size="23" text-anchor="end">0</text>
<line x1="1434.2" y1="865.1" x2="1441.4" y2="865.1" stroke="#000" stroke-width="2.3"/>
<text x="1429.8" y="873.1" font-size="23" text-anchor="end">0.5</text>
<line x1="1434.2" y1="798.4" x2="1441.4" y2="798.4" stroke="#000" stroke-width="2.3"/>
<text x="1428" y="806.4" font-size="23" text-anchor="end">1</text>
<line x1="1434.2" y1="730.9" x2="1441.4" y2="730.9" stroke="#000" stroke-width="2.3"/>
<text x="1429.8" y="738.9" font-size="23" text-anchor="end">1.5</text>
<line x1="1434.2" y1="665.2" x2="1441.4" y2="665.2" stroke="#000" stroke-width="2.3"/>
<text x="1428" y="673.2" font-size="23" text-anchor="end">2</text>
<line x1="1434.2" y1="598" x2="1441.4" y2="598" stroke="#000" stroke-width="2.3"/>
<text x="1429.8" y="606" font-size="23" text-anchor="end">2.5</text>
<text transform="translate(1515 583.2) scale(1.010 1)" font-size="23" text-anchor="middle">SVF</text>
<text transform="translate(1383 753) rotate(-90) scale(1.035 1)" font-size="25.2" text-anchor="middle">Lactate (fold change/cell)</text>
<text transform="translate(1473.8 956.6) scale(1.010 1)" font-size="23" text-anchor="middle">Lean</text>
<text transform="translate(1553.6 956.6) scale(1.010 1)" font-size="23" text-anchor="middle">Obese</text>
<text transform="translate(1546.7 622.7) scale(1.100 1)" font-size="27.5" text-anchor="middle" stroke="#000" stroke-width="0.45">*</text>
</g>
<g id="panel-g">
<text transform="translate(1646 570.7) scale(0.980 1)" font-size="35" font-weight="bold">g</text>
<line x1="1778.25" y1="750.3" x2="1778.25" y2="759.4" stroke="#000" stroke-width="3.3"/>
<line x1="1773.35" y1="750.5" x2="1783.15" y2="750.5" stroke="#000" stroke-width="2.8"/>
<rect x="1761.7" y="760" width="34.7" height="172.2" fill="#fff" stroke="#000" stroke-width="3.2"/>
<line x1="1856.3" y1="673.1" x2="1856.3" y2="697" stroke="#000" stroke-width="3.3"/>
<line x1="1851.4" y1="673.3" x2="1861.2" y2="673.3" stroke="#000" stroke-width="2.8"/>
<rect x="1839.6" y="696" width="35" height="236.2" fill="#000"/>
<path d="M1747 637.1 V932.2 H1899" fill="none" stroke="#000" stroke-width="3.3" stroke-linejoin="miter"/>
<line x1="1743.9" y1="932.2" x2="1747" y2="932.2" stroke="#000" stroke-width="2.3"/>
<text x="1718.8" y="939.5" font-size="23" text-anchor="middle">0</text>
<line x1="1743.9" y1="903.09" x2="1747" y2="903.09" stroke="#000" stroke-width="2.3"/>
<text x="1720.8" y="910.39" font-size="23" text-anchor="middle">0.5</text>
<line x1="1743.9" y1="873.58" x2="1747" y2="873.58" stroke="#000" stroke-width="2.3"/>
<text x="1718.8" y="880.88" font-size="23" text-anchor="middle">1</text>
<line x1="1743.9" y1="844.07" x2="1747" y2="844.07" stroke="#000" stroke-width="2.3"/>
<text x="1720.8" y="851.37" font-size="23" text-anchor="middle">1.5</text>
<line x1="1743.9" y1="814.56" x2="1747" y2="814.56" stroke="#000" stroke-width="2.3"/>
<text x="1718.8" y="821.86" font-size="23" text-anchor="middle">2</text>
<line x1="1743.9" y1="785.05" x2="1747" y2="785.05" stroke="#000" stroke-width="2.3"/>
<text x="1720.8" y="792.35" font-size="23" text-anchor="middle">2.5</text>
<line x1="1743.9" y1="755.54" x2="1747" y2="755.54" stroke="#000" stroke-width="2.3"/>
<text x="1718.8" y="762.84" font-size="23" text-anchor="middle">3</text>
<line x1="1743.9" y1="726.03" x2="1747" y2="726.03" stroke="#000" stroke-width="2.3"/>
<text x="1720.8" y="733.33" font-size="23" text-anchor="middle">3.5</text>
<line x1="1743.9" y1="696.52" x2="1747" y2="696.52" stroke="#000" stroke-width="2.3"/>
<text x="1718.8" y="703.82" font-size="23" text-anchor="middle">4</text>
<line x1="1743.9" y1="667.01" x2="1747" y2="667.01" stroke="#000" stroke-width="2.3"/>
<text x="1720.8" y="674.31" font-size="23" text-anchor="middle">4.5</text>
<line x1="1743.9" y1="638.1" x2="1747" y2="638.1" stroke="#000" stroke-width="2.3"/>
<text x="1718.8" y="645.4" font-size="23" text-anchor="middle">5</text>
<text transform="translate(1818.8 583.2) scale(1.010 1)" font-size="23" text-anchor="middle">Serum</text>
<text transform="translate(1683 761) rotate(-90) scale(1.035 1)" font-size="25.2" text-anchor="middle">Lactate (mM)</text>
<text transform="translate(1772.7 956.6) scale(1.010 1)" font-size="23" text-anchor="middle">Lean</text>
<text transform="translate(1852.9 956.6) scale(1.010 1)" font-size="23" text-anchor="middle">Obese</text>
<text transform="translate(1856 672.1) scale(1.100 1)" font-size="27.5" text-anchor="middle" stroke="#000" stroke-width="0.45">*</text>
</g>
</svg>
</body>
</html>
